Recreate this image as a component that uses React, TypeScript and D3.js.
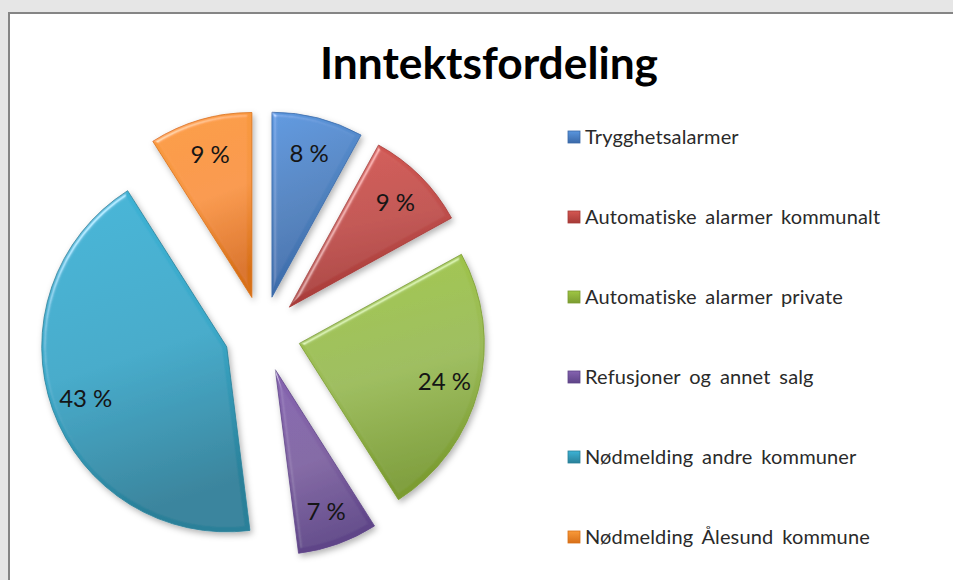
import React from "react";
import * as d3 from "d3";

const categories = [
  "Trygghetsalarmer",
  "Automatiske alarmer kommunalt",
  "Automatiske alarmer private",
  "Refusjoner og annet salg",
  "Nødmelding andre kommuner",
  "Nødmelding Ålesund kommune",
];
const values = [8, 9, 24, 7, 43, 9];
const labels = ["8 %", "9 %", "24 %", "7 %", "43 %", "9 %"];
const baseColors = ["#4F81BD", "#C0504D", "#9BBB59", "#8064A2", "#3BA8C8", "#F79646"];
const lightColors = ["#5a96de", "#d45752", "#9fc643", "#8563b0", "#3db3d6", "#f99a3a"];
const darkColors = ["#3a69a8", "#a63a37", "#7b9c31", "#5e4488", "#2a8099", "#d87018"];
const title = "Inntektsfordeling";

const W = 953;
const H = 580;
const cx = 262.5;
const cy = 334;
const R = 185;
const explode = 38;

export default function App() {
  const pie = d3
    .pie<number>()
    .sort(null)
    .value((d) => d)
    .startAngle(0)
    .endAngle(2 * Math.PI);
  const arcs = pie(values);
  const arcGen = d3.arc<d3.PieArcDatum<number>>().innerRadius(0).outerRadius(R);

  const legendY = d3
    .scalePoint<string>()
    .domain(categories)
    .range([137, 537]);

  return (
    <svg
      width={W}
      height={H}
      style={{ position: "absolute", left: 0, top: 0, display: "block" }}
    >
      <defs>
        {baseColors.map((c, i) => (
          <linearGradient key={i} id={`g${i}`} x1="0" y1="0" x2="0.2" y2="1">
            <stop offset="0" stopColor={lightColors[i]} />
            <stop offset="0.55" stopColor={c} />
            <stop offset="1" stopColor={darkColors[i]} />
          </linearGradient>
        ))}
        {baseColors.map((c, i) => (
          <linearGradient key={"l" + i} id={`lg${i}`} x1="0" y1="0" x2="0" y2="1">
            <stop offset="0" stopColor={lightColors[i]} />
            <stop offset="1" stopColor={darkColors[i]} />
          </linearGradient>
        ))}
        <filter id="bevel" x="-20%" y="-20%" width="140%" height="140%">
          <feGaussianBlur in="SourceAlpha" stdDeviation="2" result="blur" />
          <feSpecularLighting
            in="blur"
            surfaceScale="3"
            specularConstant="0.7"
            specularExponent="30"
            lightingColor="#ffffff"
            result="spec"
          >
            <feDistantLight azimuth="225" elevation="40" />
          </feSpecularLighting>
          <feComposite in="spec" in2="SourceAlpha" operator="in" result="specIn" />
          <feComposite
            in="SourceGraphic"
            in2="specIn"
            operator="arithmetic"
            k1="0"
            k2="1"
            k3="0.6"
            k4="0"
            result="lit"
          />
          <feDropShadow in="lit" dx="2" dy="3" stdDeviation="3" floodColor="#000" floodOpacity="0.3" />
        </filter>
      </defs>
      <rect x={0} y={0} width={W} height={H} fill="#e6e6e6" />
      <rect x={9} y={13} width={970} height={600} fill="#ffffff" stroke="#858585" strokeWidth={2} />

      <text
        x={489}
        y={79}
        textAnchor="middle"
        fontFamily="Lato, 'Open Sans', sans-serif"
        fontWeight={700}
        fontSize={44}
        fill="#000"
        textLength={338}
        lengthAdjust="spacingAndGlyphs"
      >
        {title}
      </text>

      <g>
        {arcs.map((a, i) => {
          const mid = (a.startAngle + a.endAngle) / 2;
          const dx = explode * Math.sin(mid);
          const dy = -explode * Math.cos(mid);
          return (
            <g key={i} transform={`translate(${cx + dx},${cy + dy})`}>
              <path
                d={arcGen(a) || ""}
                fill={`url(#g${i})`}
                stroke={darkColors[i]}
                strokeWidth={0.8}
                strokeLinejoin="round"
                filter="url(#bevel)"
              />
            </g>
          );
        })}
        {arcs.map((a, i) => {
          const mid = (a.startAngle + a.endAngle) / 2;
          const dx = explode * Math.sin(mid);
          const dy = -explode * Math.cos(mid);
          const r = R * 0.81;
          return (
            <text
              key={"t" + i}
              x={cx + dx + r * Math.sin(mid)}
              y={cy + dy - r * Math.cos(mid)}
              textAnchor="middle"
              dominantBaseline="central"
              fontFamily="Lato, 'Open Sans', sans-serif"
              fontSize={24}
              fill="#151515"
            >
              {labels[i]}
            </text>
          );
        })}
      </g>

      <g>
        {categories.map((c, i) => {
          const y = legendY(c) as number;
          return (
            <g key={c}>
              <rect
                x={568}
                y={y - 6}
                width={12}
                height={12}
                fill={`url(#lg${i})`}
                stroke={darkColors[i]}
                strokeWidth={0.8}
              />
              <text
                x={585}
                y={y + 7}
                fontFamily="Lato, 'Open Sans', sans-serif"
                fontSize={20}
                wordSpacing={3.5}
                letterSpacing={0.15}
                fill="#2a2a2a"
              >
                {c}
              </text>
            </g>
          );
        })}
      </g>
    </svg>
  );
}
